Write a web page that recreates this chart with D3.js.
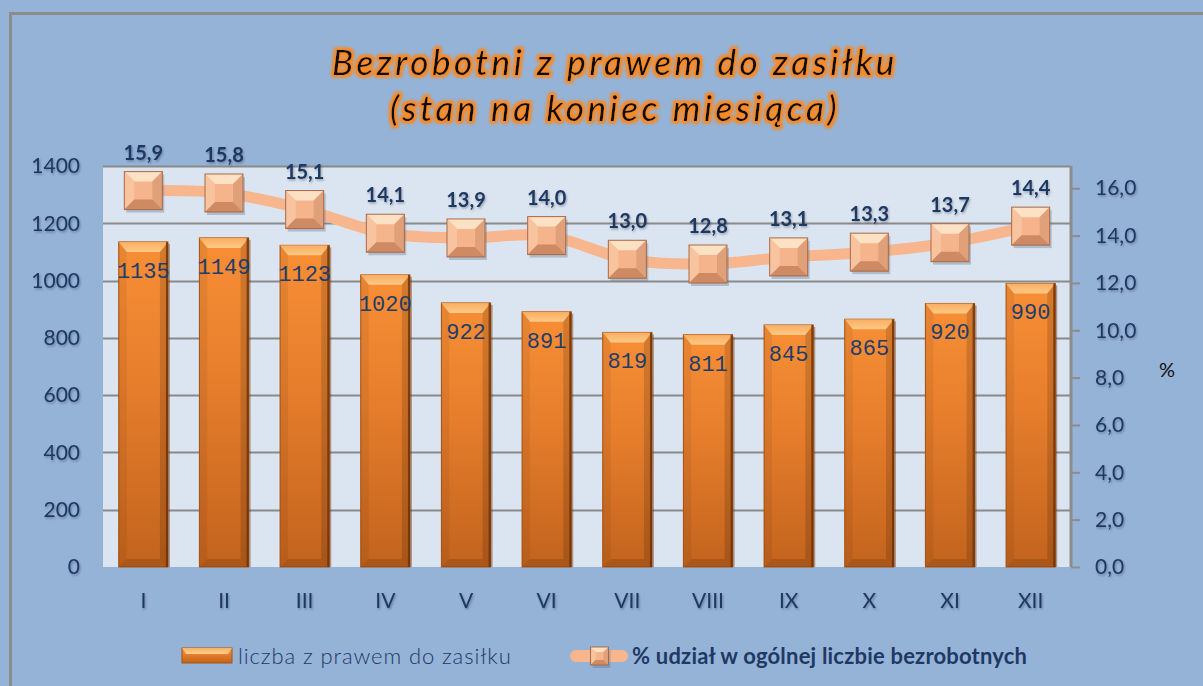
<!DOCTYPE html>
<html>
<head>
<meta charset="utf-8">
<script src="https://cdn.jsdelivr.net/npm/d3@7"></script>
<style>
  html, body { margin: 0; padding: 0; background: #95b3d7; }
  svg { display: block; }
</style>
</head>
<body>
<div id="chart"></div>
<script>
// data
const months = ['I', 'II', 'III', 'IV', 'V', 'VI', 'VII', 'VIII', 'IX', 'X', 'XI', 'XII'];
const liczba = [1135, 1149, 1123, 1020, 922, 891, 819, 811, 845, 865, 920, 990];
const udzial = [15.9, 15.8, 15.1, 14.1, 13.9, 14.0, 13.0, 12.8, 13.1, 13.3, 13.7, 14.4];
const leftTicks = [0, 200, 400, 600, 800, 1000, 1200, 1400];
const rightTicks = [0, 2, 4, 6, 8, 10, 12, 14, 16];
const titleLines = ['Bezrobotni z prawem do zasiłku', '(stan na koniec miesiąca)'];
const legendLabels = ['liczba z prawem do zasiłku', '% udział w ogólnej liczbie bezrobotnych'];

const width = 1203, height = 686;
const plot = { l: 103, r: 1071, t: 166, b: 567 };
const font = 'Lato, "Open Sans", sans-serif';
const dark = '#1f3864';
const fmt = v => d3.format('.1f')(v).replace('.', ',');

const svg = d3.select('#chart').append('svg').attr('width', width).attr('height', height);
const defs = svg.append('defs');

// glow for title
let glow = defs.append('filter').attr('id', 'glow').attr('x', '-10%').attr('y', '-30%').attr('width', '120%').attr('height', '160%');
glow.append('feMorphology').attr('in', 'SourceAlpha').attr('operator', 'dilate').attr('radius', 2.2).attr('result', 'dil');
glow.append('feFlood').attr('flood-color', '#f58a2a').attr('result', 'col');
glow.append('feComposite').attr('in', 'col').attr('in2', 'dil').attr('operator', 'in').attr('result', 'orange');
glow.append('feGaussianBlur').attr('in', 'orange').attr('stdDeviation', 1.6).attr('result', 'blur');
let gm = glow.append('feMerge');
gm.append('feMergeNode').attr('in', 'blur');
gm.append('feMergeNode').attr('in', 'blur');
gm.append('feMergeNode').attr('in', 'SourceGraphic');

// soft text shadow
let sh = defs.append('filter').attr('id', 'tshadow').attr('x', '-20%').attr('y', '-20%').attr('width', '140%').attr('height', '160%');
sh.append('feDropShadow').attr('dx', 1).attr('dy', 1.5).attr('stdDeviation', 1).attr('flood-color', '#000').attr('flood-opacity', 0.3);

let barGrad = defs.append('linearGradient').attr('id', 'barGrad').attr('x1', 0).attr('y1', 0).attr('x2', 0).attr('y2', 1);
barGrad.append('stop').attr('offset', '0%').attr('stop-color', '#f88f36');
barGrad.append('stop').attr('offset', '45%').attr('stop-color', '#e57d2c');
barGrad.append('stop').attr('offset', '100%').attr('stop-color', '#c2631d');

let topGrad = defs.append('linearGradient').attr('id', 'topGrad').attr('x1', 0).attr('y1', 0).attr('x2', 0).attr('y2', 1);
topGrad.append('stop').attr('offset', '0%').attr('stop-color', '#fbb066');
topGrad.append('stop').attr('offset', '100%').attr('stop-color', '#fdd08e');

// background + outer border
svg.append('rect').attr('width', width).attr('height', height).attr('fill', '#95b3d7');
svg.append('path').attr('d', `M10.5,${height} V13.5 H${width}`).attr('fill', 'none').attr('stroke', '#8c8c8c').attr('stroke-width', 3);

// title
svg.append('g').selectAll('text').data(titleLines).join('text')
  .attr('x', 615).attr('y', (d, i) => 75 + i * 46)
  .attr('text-anchor', 'middle')
  .attr('font-family', font).attr('font-style', 'italic')
  .attr('font-size', 35).attr('letter-spacing', 3.6)
  .attr('fill', '#111').attr('filter', 'url(#glow)')
  .text(d => d);

const x = d3.scaleBand().domain(months).range([plot.l, plot.r]).paddingInner(0.39).paddingOuter(0.195);
const yL = d3.scaleLinear().domain([0, 1400]).range([plot.b, plot.t]);
const yR = d3.scaleLinear().domain([0, 16.94]).range([plot.b, plot.t]);

// plot area
svg.append('rect').attr('x', plot.l).attr('y', plot.t).attr('width', plot.r - plot.l).attr('height', plot.b - plot.t).attr('fill', '#dbe5f1');

let gridg = svg.append('g').attr('class', 'grid-g');
gridg.selectAll('line').data(leftTicks.filter(d => d > 0)).join('line')
  .attr('x1', plot.l).attr('x2', plot.r)
  .attr('y1', d => Math.round(yL(d)) + 0.5).attr('y2', d => Math.round(yL(d)) + 0.5)
  .attr('stroke', '#8a8a8a').attr('stroke-width', 2);

// left axis
let yaxisg = svg.append('g').attr('transform', `translate(${plot.l},0)`);
yaxisg.call(d3.axisLeft(yL).tickValues(leftTicks).tickSize(0).tickPadding(23).tickFormat(d3.format('d')));
yaxisg.select('.domain').remove();
yaxisg.selectAll('text').attr('font-family', font).attr('font-size', 21).attr('fill', dark).attr('filter', 'url(#tshadow)');

// right axis
let raxisg = svg.append('g').attr('transform', `translate(${plot.r},0)`);
raxisg.call(d3.axisRight(yR).tickValues(rightTicks).tickSize(9).tickPadding(15).tickFormat(fmt));
raxisg.select('.domain').attr('stroke', '#8c8c8c').attr('stroke-width', 3).attr('d', `M0,${plot.t}V${plot.b}`);
raxisg.selectAll('line').attr('stroke', '#8c8c8c').attr('stroke-width', 2);
raxisg.selectAll('text').attr('font-family', font).attr('font-size', 21).attr('fill', dark).attr('filter', 'url(#tshadow)');
svg.append('text').attr('x', 1167).attr('y', 377).attr('text-anchor', 'middle')
  .attr('font-family', font).attr('font-size', 20).attr('fill', '#111').text('%');

// bars
const bev = 8;
let barg = svg.append('g').attr('class', 'bar-g');
let bars = barg.selectAll('g').data(liczba).join('g');
const bx = (d, i) => x(months[i]);
const bw = x.bandwidth();
bars.append('rect')
  .attr('x', (d, i) => bx(d, i) + 2).attr('y', d => yL(d) + 2)
  .attr('width', bw).attr('height', d => plot.b - yL(d) - 2)
  .attr('fill', '#6a3510').attr('opacity', 0.45);
bars.append('rect')
  .attr('x', bx).attr('y', d => yL(d))
  .attr('width', bw).attr('height', d => plot.b - yL(d))
  .attr('fill', 'url(#barGrad)').attr('stroke', '#a8520f').attr('stroke-width', 1);
bars.append('polygon').attr('points', (d, i) => {
  let x0 = bx(d, i), y0 = yL(d);
  return [[x0, y0], [x0 + bw, y0], [x0 + bw - bev, y0 + bev + 2], [x0 + bev, y0 + bev + 2]].join(' ');
}).attr('fill', 'url(#topGrad)').attr('opacity', 0.9);
bars.append('polygon').attr('points', (d, i) => {
  let x0 = bx(d, i), y0 = yL(d);
  return [[x0, y0], [x0 + bev, y0 + bev + 2], [x0 + bev, plot.b - bev], [x0, plot.b]].join(' ');
}).attr('fill', '#000').attr('opacity', 0.06);
bars.append('polygon').attr('points', (d, i) => {
  let x0 = bx(d, i), y0 = yL(d);
  return [[x0 + bw, y0], [x0 + bw - bev, y0 + bev + 2], [x0 + bw - bev, plot.b - bev], [x0 + bw, plot.b]].join(' ');
}).attr('fill', '#000').attr('opacity', 0.14);
bars.append('polygon').attr('points', (d, i) => {
  let x0 = bx(d, i);
  return [[x0, plot.b], [x0 + bev, plot.b - bev], [x0 + bw - bev, plot.b - bev], [x0 + bw, plot.b]].join(' ');
}).attr('fill', '#000').attr('opacity', 0.12);
bars.append('rect')
  .attr('x', (d, i) => bx(d, i) + bw - 2).attr('y', d => yL(d))
  .attr('width', 2).attr('height', d => plot.b - yL(d))
  .attr('fill', '#6b3008').attr('opacity', 0.8);

bars.append('text')
  .attr('x', (d, i) => bx(d, i) + bw / 2).attr('y', d => yL(d) + 36)
  .attr('text-anchor', 'middle')
  .attr('font-family', '"Liberation Mono", "DejaVu Sans Mono", monospace')
  .attr('font-size', 22).attr('fill', '#1f3d6b')
  .text(d => d);

// bottom axis
svg.append('line').attr('x1', plot.l).attr('x2', plot.r).attr('y1', plot.b + 1).attr('y2', plot.b + 1)
  .attr('stroke', '#8c8c8c').attr('stroke-width', 3).attr('filter', 'url(#tshadow)');
let xaxisg = svg.append('g').attr('transform', `translate(0,${plot.b})`);
xaxisg.call(d3.axisBottom(x).tickSize(0).tickPadding(26));
xaxisg.select('.domain').remove();
xaxisg.selectAll('text').attr('font-family', font).attr('font-size', 21).attr('fill', dark).attr('filter', 'url(#tshadow)');

// percentage line
const px = (d, i) => x(months[i]) + bw / 2;
let lineGen = d3.line().x(px).y(d => yR(d)).curve(d3.curveCatmullRom.alpha(0.5));
svg.append('path').datum(udzial)
  .attr('d', lineGen).attr('fill', 'none')
  .attr('stroke', '#f7b68e').attr('stroke-width', 11).attr('stroke-linecap', 'round');

const drawMarker = (g, cx, cy, s, b) => {
  let h = s / 2;
  let x0 = cx - h, x1 = cx + h, y0 = cy - h, y1 = cy + h;
  g.append('rect').attr('x', x0 + 2).attr('y', y0 + 3).attr('width', s).attr('height', s)
    .attr('fill', '#5b6f8c').attr('opacity', 0.35);
  g.append('rect').attr('x', x0).attr('y', y0).attr('width', s).attr('height', s).attr('fill', '#f6b48d');
  g.append('polygon').attr('points', [[x0, y0], [x1, y0], [x1 - b, y0 + b], [x0 + b, y0 + b]].join(' ')).attr('fill', '#fde1c4');
  g.append('polygon').attr('points', [[x0, y0], [x0 + b, y0 + b], [x0 + b, y1 - b], [x0, y1]].join(' ')).attr('fill', '#f8c4a0');
  g.append('polygon').attr('points', [[x1, y0], [x1 - b, y0 + b], [x1 - b, y1 - b], [x1, y1]].join(' ')).attr('fill', '#e0a07a');
  g.append('polygon').attr('points', [[x0, y1], [x0 + b, y1 - b], [x1 - b, y1 - b], [x1, y1]].join(' ')).attr('fill', '#cd8a63');
  g.append('rect').attr('x', x0).attr('y', y0).attr('width', s).attr('height', s)
    .attr('fill', 'none').attr('stroke', '#a86a48').attr('stroke-width', 1);
};

let markg = svg.append('g').attr('class', 'marker-g');
udzial.forEach((d, i) => drawMarker(markg.append('g'), px(d, i), yR(d), 38, 10));

svg.append('g').selectAll('text').data(udzial).join('text')
  .attr('x', px).attr('y', d => yR(d) - 31)
  .attr('text-anchor', 'middle')
  .attr('font-family', font).attr('font-weight', 'bold').attr('font-size', 20)
  .attr('fill', dark).attr('filter', 'url(#tshadow)')
  .text(fmt);

// legend
let legg = svg.append('g').attr('class', 'legend-g');
let lb = legg.append('g');
lb.append('rect').attr('x', 182).attr('y', 648).attr('width', 50).attr('height', 15).attr('fill', 'url(#barGrad)').attr('stroke', '#a8520f');
lb.append('polygon').attr('points', [[182, 648], [232, 648], [228, 654], [186, 654]].join(' ')).attr('fill', 'url(#topGrad)');
legg.append('text').attr('x', 238).attr('y', 664)
  .attr('font-family', font).attr('font-weight', 300).attr('font-size', 22).attr('fill', dark)
  .attr('letter-spacing', 0.9)
  .text(legendLabels[0]);
legg.append('line').attr('x1', 576).attr('x2', 622).attr('y1', 656).attr('y2', 656)
  .attr('stroke', '#f7b68e').attr('stroke-width', 12).attr('stroke-linecap', 'round');
drawMarker(legg.append('g'), 599.5, 656, 18, 5);
legg.append('text').attr('x', 632).attr('y', 664)
  .attr('font-family', font).attr('font-weight', 'bold').attr('font-size', 22).attr('fill', dark)
  .attr('letter-spacing', 0.2)
  .text(legendLabels[1]);
</script>
</body>
</html>
